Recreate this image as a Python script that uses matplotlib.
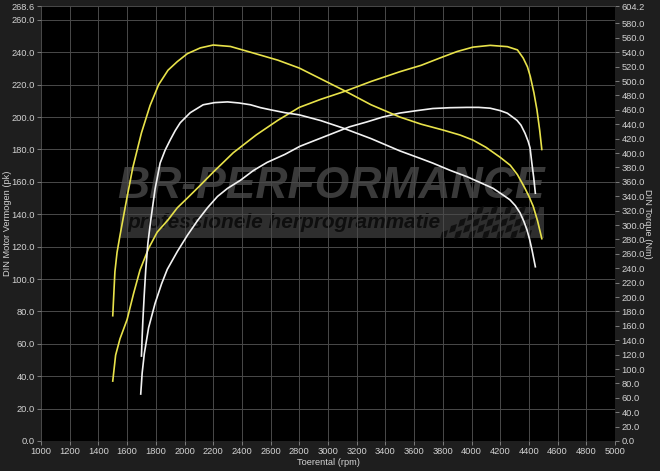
import matplotlib
matplotlib.use('Agg')
import matplotlib.pyplot as plt
from matplotlib.patches import Rectangle, Polygon
from matplotlib.transforms import IdentityTransform

# vermogen (pk) - getuned (geel) en origineel (wit)
rpm_pk_tuned = [1500, 1520, 1550, 1600, 1645, 1690, 1750, 1810, 1885, 1950, 2020, 2100, 2200, 2340, 2500, 2650, 2800,
                2950, 3120, 3300, 3500, 3650, 3780, 3900, 4010, 4130, 4250, 4320, 4360, 4390, 4410, 4435, 4456, 4475, 4490]
pk_tuned = [37, 53, 63, 75, 91, 105.6, 119, 129, 136.5, 144, 150, 157, 166, 178, 189, 198, 206,
            211, 216, 222, 228, 232, 236.5, 240.5, 243.2, 244.3, 243.5, 241.5, 236.5, 231, 225, 215, 204.5, 192, 180]

rpm_pk_stock = [1695, 1705, 1720, 1750, 1795, 1840, 1880, 1950, 2020, 2090, 2160, 2230, 2300, 2390, 2480, 2575, 2700,
                2805, 2920, 3035, 3150, 3270, 3380, 3500, 3620, 3730, 3850, 3970, 4050, 4130, 4200, 4250, 4317, 4345,
                4373, 4395, 4408, 4420, 4433, 4445]
pk_stock = [29, 42, 54, 70, 85, 97, 106, 117, 127, 136, 144, 151, 156, 161, 167, 172, 177,
            182, 186, 190, 194, 197, 200, 202.5, 204, 205.3, 205.8, 206, 206, 205.5, 204, 202.4, 198, 195,
            190, 185, 181, 172, 163, 153]

# koppel (Nm)
rpm_nm_tuned = [1500, 1515, 1530, 1550, 1575, 1600, 1640, 1700, 1760, 1820, 1885, 1950, 2020, 2110, 2200, 2320, 2460,
                2650, 2800, 2950, 3120, 3300, 3500, 3650, 3800, 3920, 4010, 4100, 4200, 4270, 4320, 4370, 4400, 4430,
                4460, 4490]
nm_tuned = [174, 235, 262, 285, 312, 339, 380, 428, 466, 495, 515, 527, 538, 546, 550, 548, 540,
            529, 518, 503, 486, 467, 450, 440, 432, 425, 418, 408, 394, 383, 370, 352, 340, 326,
            306, 281]

rpm_nm_stock = [1700, 1705, 1710, 1720, 1730, 1745, 1765, 1795, 1830, 1865, 1900, 1935, 1970, 2040, 2130, 2210, 2300,
                2380, 2460, 2530, 2600, 2700, 2800, 2950, 3100, 3300, 3500, 3650, 3730, 3850, 3970, 4060, 4150, 4210,
                4268, 4305, 4338, 4365, 4387, 4405, 4422, 4435, 4445]
nm_stock = [118, 145, 168, 205, 238, 275, 307, 350, 386, 404, 418, 431, 442, 456, 467, 470, 471,
            469.5, 467, 463, 460, 456, 453, 445, 435, 420, 403, 392, 386, 376, 367, 359, 351, 343,
            335, 327, 317, 305, 293, 280, 265, 252, 242]

x_ticks = list(range(1000, 5001, 200))
pk_ticks = list(range(0, 261, 20)) + [268.6]
nm_ticks = list(range(0, 581, 20)) + [604.2]

geel = '#e8e24a'
wit = '#f2f2f2'
tekst = '#d2d2d2'
plt.rcParams['font.family'] = ['Liberation Sans', 'DejaVu Sans']

fig = plt.figure(figsize=(6.6, 4.71), dpi=100, facecolor='#1e1e1e')
ax = fig.add_axes([41/660, 30/471, 574/660, 435/471])
ax.set_facecolor('black')
ax2 = ax.twinx()

ax.set_xlim(1000, 5000)
ax.set_ylim(0, 268.6)
ax2.set_ylim(0, 604.2)
ax.set_xticks(x_ticks)
ax.set_yticks(pk_ticks)
ax2.set_yticks(nm_ticks)
ax.set_xticklabels([str(v) for v in x_ticks])
ax.set_yticklabels(['%.1f' % v for v in pk_ticks])
ax2.set_yticklabels(['%.1f' % v for v in nm_ticks])

ax.grid(True, color='#4a4a4a', lw=0.7)
for a in (ax, ax2):
    a.tick_params(colors='#8a8a8a', labelcolor=tekst, labelsize=6.7, length=3, width=0.6, pad=1.5)
    for s in a.spines.values():
        s.set_visible(False)

ax.set_xlabel('Toerental (rpm)', color=tekst, fontsize=6.7, labelpad=1)
ax.set_ylabel('DIN Motor Vermogen (pk)', color=tekst, fontsize=6.7, va='center')
ax.yaxis.set_label_coords(-0.058, 0.5)
ax2.set_ylabel('DIN Torque (Nm)', color=tekst, fontsize=6.7, rotation=270, va='center')
ax2.yaxis.set_label_coords(1.057, 0.5)

# watermerk
ax.text(0.506, 0.586, 'BR-PERFORMANCE', transform=ax.transAxes, ha='center', va='center',
        fontsize=32, fontweight='bold', fontstyle='italic', color='#3a3a3a', zorder=0.6)
ax.add_patch(Rectangle((0.137, 0.467), 0.74, 0.071, transform=ax.transAxes,
                       facecolor='#2e2e2e', edgecolor='none', zorder=0.5))
ax.text(0.15, 0.503, 'professionele herprogrammatie', transform=ax.transAxes, ha='left', va='center',
        fontsize=15, fontweight='bold', fontstyle='italic', color='#0e0e0e', zorder=0.6)
# geruite vlag
for j in range(5):
    for i in range(13):
        if (i + j) % 2 or i < 4 - j:
            continue
        x0 = 450 + i * 7 - j * 2
        y0 = 471 - (208 + j * 6)
        ax.add_patch(Polygon([(x0, y0), (x0 + 6, y0 + 2), (x0 + 4, y0 - 5), (x0 - 2, y0 - 7)],
                             closed=True, transform=IdentityTransform(), facecolor='#101010',
                             edgecolor='none', zorder=0.6))

ax.plot(rpm_pk_tuned, pk_tuned, color=geel, lw=1.2, zorder=3)
ax.plot(rpm_pk_stock, pk_stock, color=wit, lw=1.2, zorder=3)
ax2.plot(rpm_nm_tuned, nm_tuned, color=geel, lw=1.2)
ax2.plot(rpm_nm_stock, nm_stock, color=wit, lw=1.2)

fig.savefig('out.png', dpi=100, facecolor=fig.get_facecolor())
